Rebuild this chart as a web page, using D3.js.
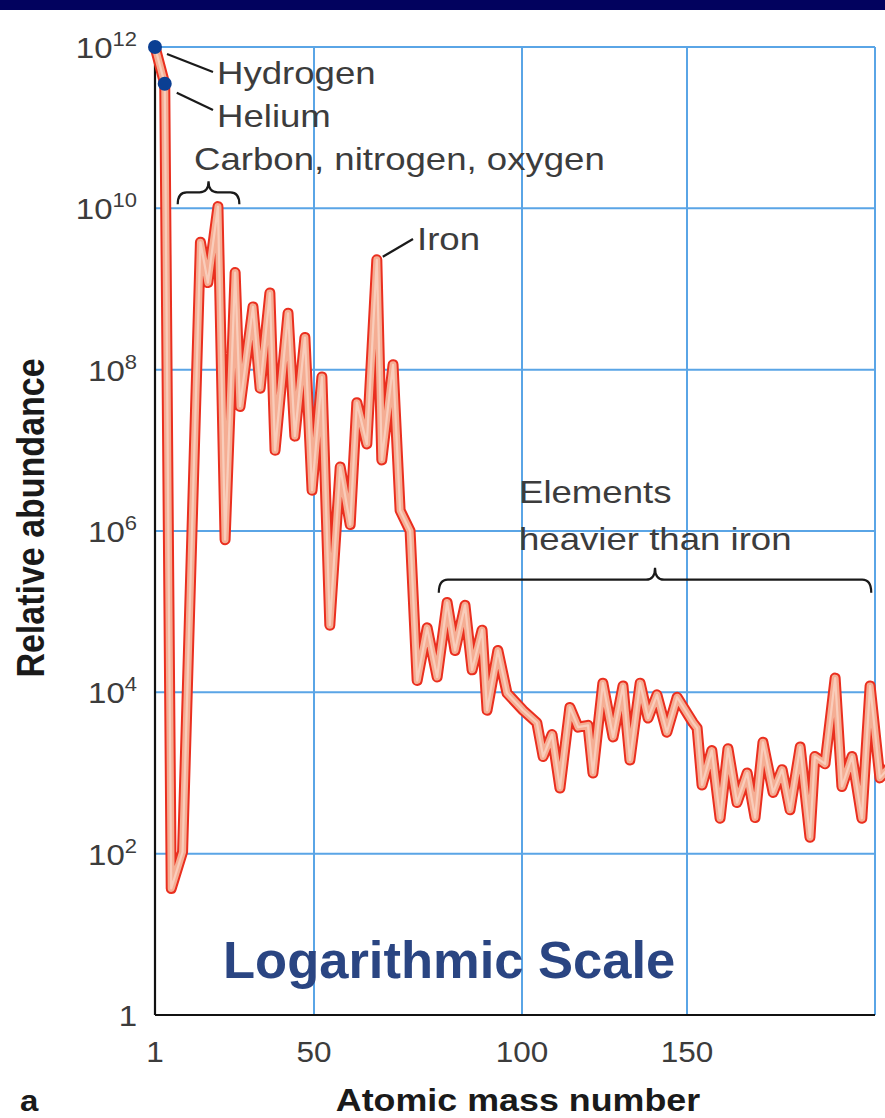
<!DOCTYPE html>
<html>
<head>
<meta charset="utf-8">
<script src="https://cdn.jsdelivr.net/npm/d3@7"></script>
<style>
  body { margin: 0; background: #fff; }
  svg { display: block; }
</style>
</head>
<body>
<svg id="chart" width="885" height="1118"></svg>
<script>
// Relative abundance of nuclei by atomic mass number (log scale)
const massNumbers = [1, 4, 6, 9.5, 15, 17.3, 20.4, 22.6, 25.7, 27.2,
  31.2, 33.4, 36.4, 38, 42, 44.1, 47.2, 49.4, 51.9, 53.8,
  56.3, 58.7, 60.3, 62.7, 65.1, 66.3, 69, 70.7, 73.1, 74.8,
  77.2, 79.6, 82, 83.9, 86.3, 88, 90.4, 91.6, 94.2, 96.4,
  100.3, 104.5, 106.4, 109.1, 111.5, 114.5, 117, 120, 121.5, 124.5,
  127.6, 130.6, 132.7, 135.8, 138.2, 140.9, 143.9, 147, 151.6, 152.7,
  154, 156.6, 158.8, 160.9, 163.3, 166, 168.1, 170.2, 172.9, 175.3,
  177.4, 180.1, 182.7, 184, 186.7, 189.4, 191.2, 193.9, 196.5, 198.7,
  201.3, 204];

const abundances = [1e12, 3.5e11, 37, 105, 3.8e9, 1.2e9, 1.05e10, 7.8e5, 1.6e9, 3.5e7,
  6.0e8, 5.9e7, 8.9e8, 1.0e7, 5.0e8, 1.5e7, 2.5e8, 3.2e6, 8.1e7, 6.8e4,
  6.2e6, 1.2e6, 3.9e7, 1.2e7, 2.3e9, 7.6e6, 1.15e8, 1.8e6, 1.0e6, 1.4e4,
  6.3e4, 1.55e4, 1.3e5, 3.3e4, 1.2e5, 1.9e4, 5.9e4, 6.0e3, 3.3e4, 9.8e3,
  6.0e3, 4.2e3, 1.6e3, 3.0e3, 650, 6.5e3, 3.7e3, 3.9e3, 1.0e3, 1.3e4,
  2.8e3, 1.2e4, 1.45e3, 1.3e4, 4.8e3, 9.3e3, 3.2e3, 8.7e3, 4.2e3, 3.6e3,
  710, 1.9e3, 275, 2.0e3, 430, 1.0e3, 280, 2.4e3, 575, 1.1e3,
  350, 2.1e3, 160, 1.6e3, 1.3e3, 1.5e4, 680, 1.6e3, 275, 1.2e4,
  870, 1.2e3];

const markerNames = ["Hydrogen", "Helium"];
const markerMass = [1, 4];
const markerAbundance = [1e12, 3.5e11];

const xTickValues = [1, 50, 100, 150];
const xGridValues = [50, 100, 150, 200];
const yTickValues = [1, 1e2, 1e4, 1e6, 1e8, 1e10, 1e12];
const yTickExponents = ["", "2", "4", "6", "8", "10", "12"];

const svg = d3.select("#chart");
const W = 885, H = 1118;

// mass-number axis is drawn with unequal spacing between the labelled ticks
const x = d3.scaleLinear().domain([1, 50, 100, 150, 200]).range([155, 314, 522, 687, 875]);
const y = d3.scaleLog().domain([1, 1e12]).range([1015, 47]);

const gridColor = "#5aa5e6";
const labelColor = "#3c3c3c";
const stretch = 1.2;
const fontFam = "'Liberation Sans', Arial, Helvetica, sans-serif";

svg.append("rect").attr("width", W).attr("height", H).attr("fill", "#fff");
svg.append("rect").attr("x", 0).attr("y", 0).attr("width", W).attr("height", 10).attr("fill", "#02025e");

// grid
const grid = svg.append("g");
grid.selectAll("line.h").data(yTickValues.slice(1)).join("line")
  .attr("x1", x(1)).attr("x2", x(200))
  .attr("y1", d => y(d)).attr("y2", d => y(d))
  .attr("stroke", gridColor).attr("stroke-width", 2);
grid.selectAll("line.v").data(xGridValues).join("line")
  .attr("x1", d => x(d)).attr("x2", d => x(d))
  .attr("y1", y(1e12)).attr("y2", y(1))
  .attr("stroke", gridColor).attr("stroke-width", 2);

// axes
const xAxis = d3.axisBottom(x).tickValues(xTickValues).tickSize(0).tickPadding(0).tickFormat("");
const gx = svg.append("g").attr("transform", `translate(0,${y(1)})`).call(xAxis);
gx.select(".domain").attr("stroke", "#111").attr("stroke-width", 2.2)
  .attr("d", `M${x(1)},0H${x(200)}`);

const yAxis = d3.axisLeft(y).tickValues(yTickValues).tickSize(0).tickFormat("");
const gy = svg.append("g").attr("transform", `translate(${x(1)},0)`).call(yAxis);
gy.select(".domain").attr("stroke", "#111").attr("stroke-width", 2.2)
  .attr("d", `M0,${y(1e12)}V${y(1)}`);

// x tick labels
svg.append("g").selectAll("text").data(xTickValues).join("text")
  .attr("transform", d => `translate(${x(d)},1062) scale(1.05,1)`)
  .attr("text-anchor", "middle")
  .attr("font-family", fontFam).attr("font-size", 30)
  .attr("fill", labelColor)
  .text(d => d);

// y tick labels with powers of ten
const yl = svg.append("g").selectAll("text").data(yTickValues).join("text")
  .attr("transform", d => `translate(137,${y(d) + 11}) scale(1.1,1)`)
  .attr("text-anchor", "end")
  .attr("font-family", fontFam).attr("font-size", 30)
  .attr("fill", labelColor);
yl.each(function(d, i) {
  const t = d3.select(this);
  if (yTickExponents[i] === "") {
    t.append("tspan").text("1");
  } else {
    t.append("tspan").text("10");
    t.append("tspan").attr("font-size", 20).attr("dy", -12).text(yTickExponents[i]);
  }
});

// axis titles
svg.append("text")
  .attr("transform", `translate(518,1111) scale(1.12,1)`)
  .attr("text-anchor", "middle")
  .attr("font-family", fontFam).attr("font-weight", "bold").attr("font-size", 32)
  .attr("fill", "#1a1a1a")
  .text("Atomic mass number");

svg.append("text")
  .attr("transform", `translate(44,518) scale(1.15,1) rotate(-90)`)
  .attr("text-anchor", "middle")
  .attr("font-family", fontFam).attr("font-weight", "bold").attr("font-size", 34)
  .attr("fill", "#1a1a1a")
  .text("Relative abundance");

svg.append("text")
  .attr("transform", `translate(20,1111) scale(1.1,1)`)
  .attr("font-family", fontFam).attr("font-weight", "bold").attr("font-size", 30)
  .attr("fill", "#1a1a1a")
  .text("a");

// abundance curve: red outer band with a pale salmon core
const pts = massNumbers.map((m, i) => [m, abundances[i]]);
const line = d3.line().x(d => x(d[0])).y(d => y(d[1]));
svg.append("path").attr("d", line(pts))
  .attr("fill", "none").attr("stroke", "#ea2f1f").attr("stroke-width", 11)
  .attr("stroke-linejoin", "round").attr("stroke-linecap", "round");
svg.append("path").attr("d", line(pts))
  .attr("fill", "none").attr("stroke", "#f5ad93").attr("stroke-width", 7)
  .attr("stroke-linejoin", "round").attr("stroke-linecap", "round");
svg.append("path").attr("d", line(pts))
  .attr("fill", "none").attr("stroke", "#f9cdbb").attr("stroke-width", 2.2)
  .attr("stroke-linejoin", "round").attr("stroke-linecap", "round");

// annotations
const ann = svg.append("g").attr("fill", "none").attr("stroke", "#1a1a1a").attr("stroke-width", 2.2);
function brace(x1, x2, xt, yEnd, yBar, yTip) {
  const r = 9;
  return `M${x1},${yEnd} Q${x1},${yBar} ${x1 + r},${yBar} L${xt - r},${yBar} Q${xt},${yBar} ${xt},${yTip}` +
         ` Q${xt},${yBar} ${xt + r},${yBar} L${x2 - r},${yBar} Q${x2},${yBar} ${x2},${yEnd}`;
}
// carbon / nitrogen / oxygen group
ann.append("path").attr("d", brace(x(8), x(27), (x(8) + x(27)) / 2, y(1e10) - 4, y(1e10) - 16, y(1e10) - 27));
// heavier than iron
ann.append("path").attr("d", brace(x(80), x(199), (x(80) + x(199)) / 2, y(1e5) - 19, y(1e5) - 32, y(1e5) - 44));

// leader lines
ann.append("line").attr("x1", x(1) + 12).attr("y1", y(1e12) + 7).attr("x2", 213).attr("y2", 72);
ann.append("line").attr("x1", x(4) + 12).attr("y1", y(3.5e11) + 9).attr("x2", 213).attr("y2", 110);
ann.append("line").attr("x1", x(65.1) + 6).attr("y1", y(2.3e9) - 3).attr("x2", 413).attr("y2", 239);

const txt = svg.append("g").attr("font-family", fontFam).attr("font-size", 30.5).attr("fill", labelColor);
function label(s, tx, ty) {
  txt.append("text").attr("transform", `translate(${tx},${ty}) scale(${stretch},1)`).text(s);
}
label("Hydrogen", 217, 84);
label("Helium", 217, 127);
label("Carbon, nitrogen, oxygen", 194, 170);
label("Iron", 417, 250);
label("Elements", 519, 503);
label("heavier than iron", 519, 550);

// element markers
svg.append("g").selectAll("circle").data(markerMass).join("circle")
  .attr("cx", d => x(d)).attr("cy", (d, i) => y(markerAbundance[i]))
  .attr("r", 7).attr("fill", "#0b3f93")
  .append("title").text((d, i) => markerNames[i]);

// scale caption
svg.append("text")
  .attr("x", 223).attr("y", 978)
  .attr("font-family", fontFam).attr("font-weight", "bold").attr("font-size", 52.5)
  .attr("fill", "#2a4582")
  .text("Logarithmic Scale");
</script>
</body>
</html>
